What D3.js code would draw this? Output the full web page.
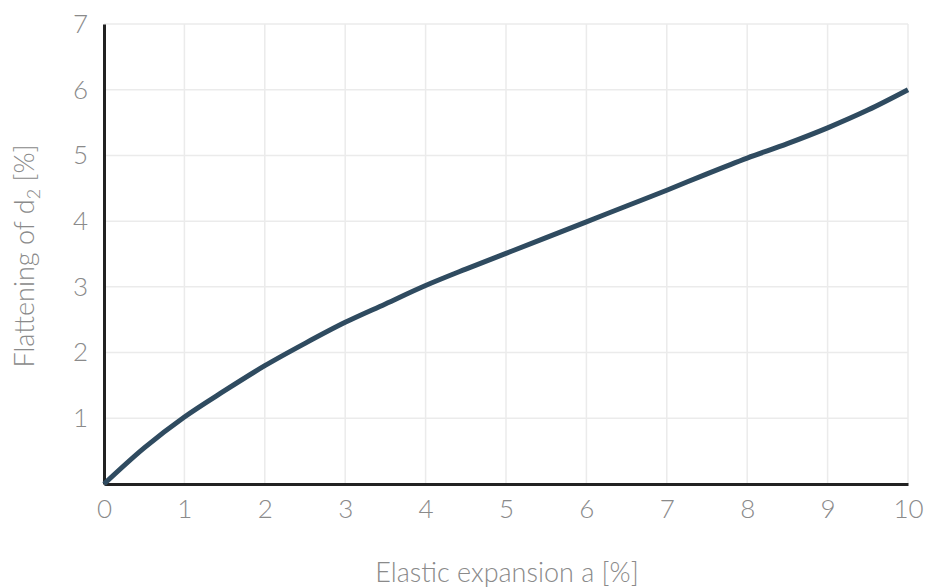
<!DOCTYPE html>
<html><head><meta charset="utf-8">
<script src="https://cdn.jsdelivr.net/npm/d3@7"></script>
<style>
body{margin:0;background:#fff;}
text{font-family:Lato,"Open Sans",sans-serif;font-weight:300;fill:#8a8a8a;}
</style></head>
<body><svg id="c" width="941" height="588"></svg>
<script>
const xValues=[0,0.5,1,1.5,2,2.5,3,3.5,4,4.5,5,5.5,6,6.5,7,7.5,8,8.5,9,9.5,10];
const yValues=[0,0.55,1.02,1.42,1.8,2.14,2.46,2.74,3.02,3.27,3.51,3.75,3.99,4.23,4.47,4.72,4.96,5.18,5.42,5.69,6.0];
const xTicks=[0,1,2,3,4,5,6,7,8,9,10];
const yTicks=[1,2,3,4,5,6,7];
const xTitle="Elastic expansion a [%]";

const svg=d3.select("#c");
const m={l:104,r:33,t:24,b:104};
const W=941,H=588;
const x=d3.scaleLinear().domain([0,10]).range([m.l,W-m.r]);
const y=d3.scaleLinear().domain([0,7]).range([H-m.b,m.t]);

// grid
svg.append("g").selectAll("line.v").data(xTicks.filter(d=>d>0)).join("line")
 .attr("x1",d=>x(d)).attr("x2",d=>x(d)).attr("y1",y(0)).attr("y2",y(7))
 .attr("stroke","#ebebeb").attr("stroke-width",1.5);
svg.append("g").selectAll("line.h").data(yTicks).join("line")
 .attr("x1",x(0)).attr("x2",x(10)).attr("y1",d=>y(d)).attr("y2",d=>y(d))
 .attr("stroke","#ebebeb").attr("stroke-width",1.5);

// axes
const xa=svg.append("g").attr("transform",`translate(0,${y(0)})`)
 .call(d3.axisBottom(x).tickValues(xTicks).tickSize(0).tickPadding(16).tickFormat(d3.format("d")));
xa.select(".domain").attr("stroke","#222").attr("stroke-width",3);
xa.selectAll("text").attr("font-size",26).attr("fill","#888").attr("font-family","Lato, sans-serif");

const ya=svg.append("g").attr("transform",`translate(${x(0)},0)`)
 .call(d3.axisLeft(y).tickValues(yTicks).tickSize(0).tickPadding(16).tickFormat(d3.format("d")));
ya.select(".domain").attr("stroke","#222").attr("stroke-width",3);
ya.selectAll("text").attr("font-size",26).attr("fill","#888").attr("font-family","Lato, sans-serif");

// curve
const pts=xValues.map((v,i)=>[v,yValues[i]]);
svg.append("path").datum(pts)
 .attr("d",d3.line().x(d=>x(d[0])).y(d=>y(d[1])).curve(d3.curveMonotoneX))
 .attr("fill","none").attr("stroke","#2f4b60").attr("stroke-width",5).attr("stroke-linecap","butt");

// titles
svg.append("text").attr("x",(x(0)+x(10))/2+1).attr("y",582).attr("text-anchor","middle")
 .attr("font-size",27).text(xTitle);
const yt=svg.append("text").attr("transform",`translate(34,${256}) rotate(-90)`).attr("text-anchor","middle").attr("font-size",27);
yt.append("tspan").text("Flattening of d");
yt.append("tspan").attr("font-size",18).attr("dy",6).text("2");
yt.append("tspan").attr("dy",-6).text(" [%]");
</script></body></html>
